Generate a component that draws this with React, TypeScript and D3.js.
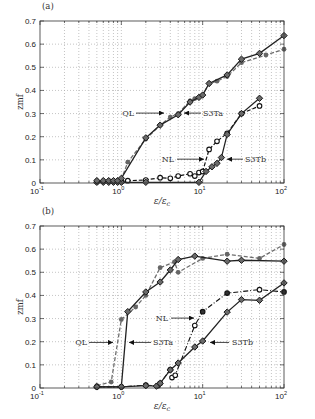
import React, { useRef, useEffect } from 'react';
import * as d3 from 'd3';

const W = 315;
const H = 419;

// ---- panel (a) ----
const s3taAx = [0.5, 0.6, 0.7, 0.8, 0.9, 1, 2, 3, 5, 7, 9, 10, 12, 20, 30, 50, 100];
const s3taAv = [0.01, 0.01, 0.01, 0.01, 0.01, 0.02, 0.195, 0.25, 0.295, 0.35, 0.37, 0.38, 0.43, 0.467, 0.535, 0.56, 0.637];
const qlAx = [0.5, 0.6, 0.7, 0.8, 0.9, 1, 1.2, 2, 3, 4, 5, 7, 8, 10, 12, 15, 20, 30, 60, 100];
const qlAv = [0.01, 0.01, 0.01, 0.01, 0.01, 0.015, 0.09, 0.19, 0.25, 0.285, 0.3, 0.355, 0.365, 0.38, 0.43, 0.44, 0.46, 0.52, 0.553, 0.578];
const nlAx = [0.5, 1, 1.2, 2, 3, 4, 5, 7, 8, 9, 10, 12, 15, 20, 30, 50];
const nlAv = [0.005, 0.006, 0.01, 0.013, 0.023, 0.02, 0.03, 0.04, 0.03, 0.045, 0.05, 0.145, 0.18, 0.215, 0.3, 0.333];
const s3tbAx = [0.5, 0.6, 0.7, 0.8, 0.9, 1, 2, 9, 11, 13, 15, 17, 20, 30, 50];
const s3tbAv = [0.003, 0.003, 0.003, 0.003, 0.003, 0.003, 0.003, 0.003, 0.05, 0.07, 0.085, 0.11, 0.21, 0.3, 0.366];

// ---- panel (b) ----
const s3taBx = [0.5, 1, 1.2, 2, 3, 4, 5, 8, 20, 30, 100];
const s3taBv = [0.005, 0.005, 0.33, 0.415, 0.458, 0.51, 0.555, 0.57, 0.548, 0.552, 0.548];
const qlBx = [0.5, 0.75, 1, 1.5, 2, 3, 4.5, 5, 10, 20, 50, 100];
const qlBv = [0.01, 0.026, 0.296, 0.35, 0.4, 0.52, 0.545, 0.5, 0.56, 0.578, 0.56, 0.62];
const nlBx = [0.5, 1, 2, 2.8, 3, 4, 4.2, 4.6, 8, 10, 20, 50, 100];
const nlBv = [0.005, 0.005, 0.012, 0.01, 0.02, 0.08, 0.045, 0.055, 0.27, 0.33, 0.41, 0.425, 0.415];
const nlBfilled = [false, false, false, false, false, true, false, false, false, true, true, false, true];
const s3tbBx = [0.5, 1, 2, 2.7, 3, 4, 5, 8, 10, 20, 30, 50, 100];
const s3tbBv = [0.005, 0.005, 0.01, 0.008, 0.02, 0.078, 0.108, 0.177, 0.203, 0.328, 0.382, 0.379, 0.454];

const yTicks = [0, 0.1, 0.2, 0.3, 0.4, 0.5, 0.6, 0.7];
const xTicks = [0.1, 1, 10, 100];
const xTickExp = ['-1', '0', '1', '2'];

const zip = (xs: number[], vs: number[]) => xs.map((x, i) => ({ x, v: vs[i], i }));

const SERIF = '"DejaVu Serif", "Liberation Serif", serif';
const SANS = '"Liberation Sans", Arial, sans-serif';

const App = () => {
  const ref = useRef<SVGSVGElement>(null);

  useEffect(() => {
    const svg = d3.select(ref.current);
    svg.selectAll('*').remove();

    const defs = svg.append('defs');
    defs.append('marker')
      .attr('id', 'arr')
      .attr('viewBox', '0 0 10 10')
      .attr('refX', 10).attr('refY', 5)
      .attr('markerWidth', 6).attr('markerHeight', 5)
      .attr('markerUnits', 'userSpaceOnUse')
      .attr('orient', 'auto')
      .append('path').attr('d', 'M0,0 L10,5 L0,10 Z').attr('fill', '#111');

    const x = d3.scaleLog().domain([0.1, 100]).range([40, 284]);
    const minors: number[] = [];
    [0.1, 1, 10].forEach(d => { for (let k = 2; k <= 9; k++) minors.push(d * k); });

    const diamond = (r: number) => `M0,${-r}L${r},0L0,${r}L${-r},0Z`;

    const drawPanel = (top: number, bottom: number, label: string, series: any[], notes: any[]) => {
      const y = d3.scaleLinear().domain([0, 0.7]).range([bottom, top]);
      const g = svg.append('g');

      // grid
      g.selectAll('.gx').data([...minors, 1, 10]).enter().append('line')
        .attr('x1', d => x(d)).attr('x2', d => x(d)).attr('y1', top).attr('y2', bottom)
        .attr('stroke', '#aaa').attr('stroke-width', 0.7).attr('stroke-dasharray', '1,2');
      g.selectAll('.gy').data(yTicks.slice(1, -1)).enter().append('line')
        .attr('x1', 40).attr('x2', 284).attr('y1', d => y(d)).attr('y2', d => y(d))
        .attr('stroke', '#aaa').attr('stroke-width', 0.7).attr('stroke-dasharray', '1,2');

      // ticks (inside, all four sides)
      const tk = g.append('g').attr('stroke', '#333').attr('stroke-width', 0.7);
      xTicks.forEach(d => {
        tk.append('line').attr('x1', x(d)).attr('x2', x(d)).attr('y1', bottom).attr('y2', bottom - 4);
        tk.append('line').attr('x1', x(d)).attr('x2', x(d)).attr('y1', top).attr('y2', top + 4);
      });
      minors.forEach(d => {
        tk.append('line').attr('x1', x(d)).attr('x2', x(d)).attr('y1', bottom).attr('y2', bottom - 2);
        tk.append('line').attr('x1', x(d)).attr('x2', x(d)).attr('y1', top).attr('y2', top + 2);
      });
      yTicks.forEach(d => {
        tk.append('line').attr('x1', 40).attr('x2', 44).attr('y1', y(d)).attr('y2', y(d));
        tk.append('line').attr('x1', 284).attr('x2', 280).attr('y1', y(d)).attr('y2', y(d));
      });

      // series
      series.forEach(s => {
        const pts = zip(s.xs, s.vs);
        const line = d3.line<any>().x(d => x(d.x)).y(d => y(d.v));
        g.append('path').attr('d', line(pts))
          .attr('fill', 'none').attr('stroke', s.color).attr('stroke-width', s.width)
          .attr('stroke-dasharray', s.dash || null);
        const m = g.selectAll(null).data(pts).enter();
        if (s.marker === 'diamond') {
          m.append('path').attr('d', diamond(3.2))
            .attr('transform', d => `translate(${x(d.x)},${y(d.v)})`)
            .attr('fill', '#6a6a6a').attr('stroke', '#1a1a1a').attr('stroke-width', 1);
        } else if (s.marker === 'dot') {
          m.append('circle').attr('cx', d => x(d.x)).attr('cy', d => y(d.v)).attr('r', 2.4)
            .attr('fill', '#666');
        } else {
          m.append('circle').attr('cx', d => x(d.x)).attr('cy', d => y(d.v)).attr('r', 2.3)
            .attr('fill', d => (s.filled && s.filled[d.i]) ? '#333' : '#fff')
            .attr('stroke', '#111').attr('stroke-width', 1.1);
        }
      });

      // frame
      g.append('rect').attr('x', 40).attr('y', top).attr('width', 244).attr('height', bottom - top)
        .attr('fill', 'none').attr('stroke', '#333').attr('stroke-width', 0.8);

      // tick labels
      yTicks.forEach(d => {
        g.append('text').attr('x', 36).attr('y', y(d) + 3).attr('text-anchor', 'end')
          .attr('font-family', SANS).attr('font-size', 8).attr('fill', '#222')
          .text(d === 0 ? '0' : d.toFixed(1));
      });
      xTicks.forEach((d, i) => {
        const t = g.append('text').attr('x', x(d) - 3).attr('y', bottom + 11).attr('text-anchor', 'middle')
          .attr('font-family', SANS).attr('font-size', 8).attr('fill', '#222');
        t.append('tspan').text('10');
        t.append('tspan').attr('dy', -4).attr('font-size', 5.5).text(xTickExp[i]);
      });

      // axis labels
      g.append('text')
        .attr('transform', `translate(23,${(top + bottom) / 2}) rotate(-90)`)
        .attr('text-anchor', 'middle').attr('font-family', SERIF).attr('font-size', 8.5).attr('fill', '#333')
        .text('zmf');
      const xl = g.append('text').attr('x', 162).attr('y', bottom + 21).attr('text-anchor', 'middle')
        .attr('font-family', SERIF).attr('font-style', 'italic').attr('font-size', 9).attr('fill', '#333');
      xl.append('tspan').text('ε/ε');
      xl.append('tspan').attr('dy', 2).attr('font-size', 6.5).text('c');
      g.append('text').attr('x', 42).attr('y', top - 12).attr('font-family', SERIF).attr('font-size', 8.5)
        .attr('fill', '#333').text(label);

      // annotations
      notes.forEach(n => {
        g.append('text').attr('x', n.tx).attr('y', y(n.v) + 3).attr('text-anchor', n.anchor)
          .attr('font-family', SERIF).attr('font-size', 8).attr('fill', '#333').text(n.text);
        g.append('line').attr('x1', n.x1).attr('x2', n.x2).attr('y1', y(n.v)).attr('y2', y(n.v))
          .attr('stroke', '#111').attr('stroke-width', 0.8).attr('marker-end', 'url(#arr)');
      });
    };

    drawPanel(21, 183, '(a)', [
      { xs: qlAx, vs: qlAv, color: '#6e6e6e', width: 1.3, dash: '4,2', marker: 'dot' },
      { xs: nlAx, vs: nlAv, color: '#111', width: 1.2, dash: '4,2', marker: 'open' },
      { xs: s3tbAx, vs: s3tbAv, color: '#222', width: 1.3, marker: 'diamond' },
      { xs: s3taAx, vs: s3taAv, color: '#222', width: 1.3, marker: 'diamond' },
    ], [
      { text: 'QL', tx: 134, anchor: 'end', v: 0.302, x1: 136, x2: 164 },
      { text: 'S3Ta', tx: 203, anchor: 'start', v: 0.302, x1: 201, x2: 184 },
      { text: 'NL', tx: 174, anchor: 'end', v: 0.103, x1: 177, x2: 204 },
      { text: 'S3Tb', tx: 245, anchor: 'start', v: 0.103, x1: 243, x2: 227 },
    ]);

    drawPanel(226, 388, '(b)', [
      { xs: qlBx, vs: qlBv, color: '#6e6e6e', width: 1.3, dash: '4,2', marker: 'dot' },
      { xs: nlBx, vs: nlBv, color: '#111', width: 1.1, dash: '5,2,1,2', marker: 'open', filled: nlBfilled },
      { xs: s3tbBx, vs: s3tbBv, color: '#222', width: 1.3, marker: 'diamond' },
      { xs: s3taBx, vs: s3taBv, color: '#222', width: 1.3, marker: 'diamond' },
    ], [
      { text: 'NL', tx: 168, anchor: 'end', v: 0.302, x1: 171, x2: 194 },
      { text: 'QL', tx: 87, anchor: 'end', v: 0.197, x1: 89, x2: 113 },
      { text: 'S3Ta', tx: 153, anchor: 'start', v: 0.197, x1: 151, x2: 129 },
      { text: 'S3Tb', tx: 232, anchor: 'start', v: 0.197, x1: 229, x2: 210 },
    ]);
  }, []);

  return (
    <svg ref={ref} width={W} height={H}
      style={{ position: 'absolute', left: 0, top: 0, background: '#fff' }} />
  );
};

export default App;
